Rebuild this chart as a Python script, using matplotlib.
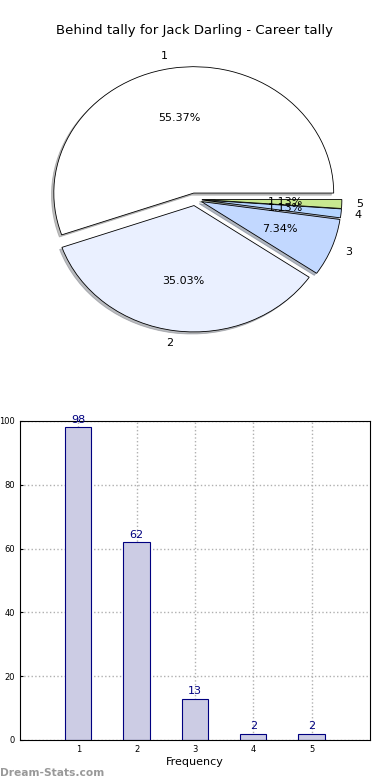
import numpy as np
import matplotlib
matplotlib.use("Agg")
import matplotlib.pyplot as plt


# DATA

categories = ["1", "2", "3", "4", "5"]
counts = [98, 62, 13, 2, 2]
pie_colors = ["#ffffff", "#eaf0ff", "#c2d8ff", "#b4d4ff", "#c8e890"]
title = "Behind tally for Jack Darling - Career tally"


# FIGURE

fig = plt.figure(figsize=(3.9, 7.8), dpi=100)


# PIE

ax_pie = fig.add_axes([0.0513, 0.542, 0.897, 0.405])
wedges, texts, autotexts = ax_pie.pie(
    counts,
    labels=categories,
    colors=pie_colors,
    explode=[0.05] * len(counts),
    autopct="%.2f%%",
    shadow=dict(ox=-0.012, oy=-0.012, shade=0.5),
    startangle=0,
    wedgeprops=dict(edgecolor="black", linewidth=0.6),
    textprops=dict(fontsize=8),
)
ax_pie.set_aspect("auto")
ax_pie.set_xlim(-1.25, 1.25)
ax_pie.set_ylim(-1.25, 1.25)
fig.text(0.5, 0.961, title, ha="center", va="center", fontsize=9.5)


# BAR

ax_bar = fig.add_axes([0.0513, 0.0513, 0.897, 0.409])
x = np.arange(1, len(counts) + 1)
ax_bar.bar(x, counts, width=0.45, color="#ccccE4", edgecolor="#000080",
           linewidth=0.8, zorder=2)
for xi, c in zip(x, counts):
    ax_bar.text(xi, c + 0.8, str(c), ha="center", va="bottom",
                fontsize=8, color="#000080", zorder=3)

ax_bar.set_xlim(0, 6)
ax_bar.set_ylim(0, 100)
ax_bar.set_xticks(x)
ax_bar.set_xticklabels(categories)
ax_bar.set_yticks(np.arange(0, 101, 20))
ax_bar.tick_params(labelsize=6, length=2, direction="in")
ax_bar.grid(True, linestyle=":", color="#b0b0b0", linewidth=1, zorder=0)
ax_bar.set_axisbelow(True)
ax_bar.set_xlabel("Frequency", fontsize=8, labelpad=2)
for s in ax_bar.spines.values():
    s.set_linewidth(0.8)

fig.text(0.0, 0.003, "Dream-Stats.com", fontsize=7.7, color="#999999",
         ha="left", va="bottom", fontweight="bold")

fig.savefig("out.png", dpi=100)
